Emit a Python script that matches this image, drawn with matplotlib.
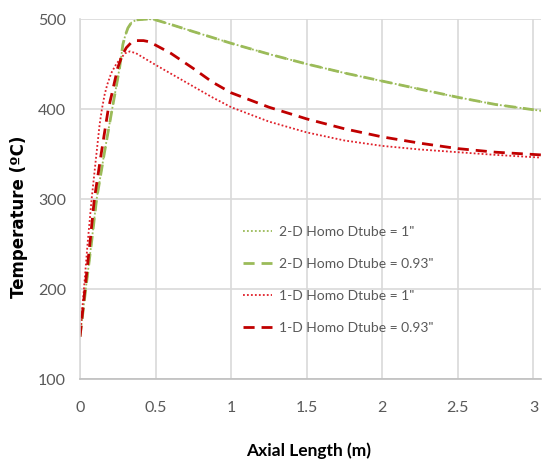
import matplotlib
matplotlib.use("Agg")
import matplotlib.pyplot as plt

# Data
x_2d_1 = [0, 0.038, 0.075, 0.11, 0.16, 0.216, 0.24, 0.262, 0.284, 0.30, 0.317, 0.34, 0.372, 0.45, 0.5, 0.6, 0.75, 1.0, 1.25, 1.5, 1.75, 2.0, 2.25, 2.5, 2.75, 3.05]
t_2d_1 = [147, 200, 250, 300, 350, 403, 425, 446, 472, 482, 490, 496, 499, 500, 499, 494, 486, 473, 461, 450, 440, 431, 422, 413, 405, 398]
x_2d_093 = [0, 0.038, 0.075, 0.11, 0.16, 0.216, 0.24, 0.262, 0.284, 0.30, 0.317, 0.34, 0.372, 0.45, 0.5, 0.6, 0.75, 1.0, 1.25, 1.5, 1.75, 2.0, 2.25, 2.5, 2.75, 3.05]
t_2d_093 = [147, 200, 250, 300, 350, 403, 425, 446, 472, 482, 490, 496, 499, 500, 499, 494, 486, 473, 461, 450, 440, 431, 422, 413, 405, 398]
x_1d_1 = [0, 0.026, 0.05, 0.077, 0.11, 0.13, 0.145, 0.163, 0.18, 0.207, 0.24, 0.273, 0.30, 0.33, 0.37, 0.44, 0.5, 0.625, 0.75, 0.875, 1.0, 1.25, 1.5, 1.75, 2.0, 2.25, 2.5, 2.75, 3.05]
t_1d_1 = [147, 200, 250, 300, 352, 383, 400, 416, 427, 440, 450, 457, 462, 464, 462, 455, 449, 437, 425, 413, 402, 386, 374, 365, 359, 355, 352, 349, 346]
x_1d_093 = [0, 0.033, 0.065, 0.095, 0.14, 0.187, 0.207, 0.25, 0.28, 0.306, 0.34, 0.372, 0.42, 0.45, 0.5, 0.6, 0.75, 0.875, 1.0, 1.25, 1.5, 1.75, 2.0, 2.25, 2.5, 2.75, 3.05]
t_1d_093 = [147, 200, 250, 300, 350, 400, 414, 446, 460, 468, 474, 476, 476, 475, 471, 462, 445, 430, 418, 402, 389, 378, 369, 362, 356, 352, 349]

labels = ['2-D Homo Dtube = 1"', '2-D Homo Dtube = 0.93"', '1-D Homo Dtube = 1"', '1-D Homo Dtube = 0.93"']
x_ticks = [0, 0.5, 1, 1.5, 2, 2.5, 3]
x_tick_labels = ['0', '0.5', '1', '1.5', '2', '2.5', '3']
y_ticks = [100, 200, 300, 400, 500]

green = '#9BBB59'
red_dot = '#E0202A'
red_dash = '#C00000'
grid_c = '#D9D9D9'
txt_c = '#595959'
font = ['Lato', 'DejaVu Sans']

fig = plt.figure(figsize=(5.44, 4.61), dpi=100)
ax = fig.add_axes([80/544, 1 - 379/461, 461/544, 360/461])

ax.plot(x_2d_1, t_2d_1, color=green, lw=1.3, ls=(0, (1, 1.2)), label=labels[0])
ax.plot(x_2d_093, t_2d_093, color=green, lw=2.0, ls=(0, (4, 2.5)), label=labels[1])
ax.plot(x_1d_1, t_1d_1, color=red_dot, lw=1.3, ls=(0, (1, 1.2)), label=labels[2])
ax.plot(x_1d_093, t_1d_093, color=red_dash, lw=2.0, ls=(0, (4, 2.5)), label=labels[3])

ax.set_xlim(0, 3.05)
ax.set_ylim(100, 500)
ax.set_xticks(x_ticks)
ax.set_xticklabels(x_tick_labels)
ax.set_yticks(y_ticks)
ax.grid(True, color=grid_c, lw=1.2)
ax.set_axisbelow(True)
for s in ['top', 'right']:
    ax.spines[s].set_visible(False)
ax.spines['left'].set_color(grid_c)
ax.spines['bottom'].set_color('#BFBFBF')
ax.spines['left'].set_linewidth(1.2)
ax.spines['bottom'].set_linewidth(1.2)
ax.tick_params(axis='both', length=0, colors=txt_c, labelsize=11.5)
ax.tick_params(axis='x', pad=16)
ax.tick_params(axis='y', pad=10)
for lab in ax.get_xticklabels() + ax.get_yticklabels():
    lab.set_family(font)

ax.set_xlabel('Axial Length (m)', fontsize=12.5, fontweight='bold', family=font, color='black')
ax.xaxis.set_label_coords(0.495, -0.175)
ax.set_ylabel('Temperature (ºC)', fontsize=12, fontweight='bold', family=['DejaVu Sans'], color='black')
ax.yaxis.set_label_coords(-0.113, 0.45)

leg = ax.legend(loc='upper left', bbox_to_anchor=(0.327, 0.46), frameon=False,
                prop={'family': font, 'size': 10}, labelcolor=txt_c,
                handlelength=2.1, handletextpad=0.45, labelspacing=1.45)

fig.savefig('out.png', dpi=100)
